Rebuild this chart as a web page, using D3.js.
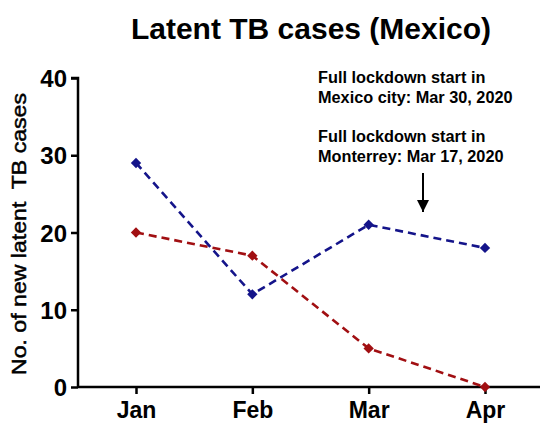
<!DOCTYPE html>
<html>
<head>
<meta charset="utf-8">
<script src="https://cdn.jsdelivr.net/npm/d3@7"></script>
<style>
  body { margin: 0; background: #fff; }
  svg text { font-family: Arial, "Liberation Sans", Helvetica, sans-serif; }
</style>
</head>
<body>
<svg id="chart" width="544" height="426"></svg>
<script>
// chart data
const months = ["Jan", "Feb", "Mar", "Apr"];
const blueSeries = [29, 12, 21, 18];
const redSeries = [20, 17, 5, 0];
const yTicks = [0, 10, 20, 30, 40];
const notes = [
  ["Full lockdown start in", "Mexico city: Mar 30, 2020"],
  ["Full lockdown start in", "Monterrey: Mar 17, 2020"]
];

const svg = d3.select("#chart");
const margin = { top: 78, right: 4, bottom: 39, left: 78 };
const width = 544, height = 426;
const innerW = width - margin.left - margin.right;
const innerH = height - margin.top - margin.bottom;

const x = d3.scalePoint()
  .domain(months)
  .range([58, 407]);
const y = d3.scaleLinear()
  .domain([0, 40])
  .range([innerH, 0]);

const g = svg.append("g")
  .attr("transform", `translate(${margin.left},${margin.top})`);

// Title
svg.append("text")
  .attr("x", 311)
  .attr("y", 39)
  .attr("text-anchor", "middle")
  .style("font-size", "30px")
  .style("font-weight", "bold")
  .text("Latent TB cases (Mexico)");

// Y axis
const yAxis = g.append("g")
  .call(d3.axisLeft(y).tickValues(yTicks).tickSize(7).tickPadding(4));
yAxis.select(".domain").attr("stroke-width", 2.5).attr("d", `M-7,0H0V${innerH}`);
yAxis.selectAll(".tick line").attr("stroke-width", 2.5);
yAxis.selectAll("text")
  .style("font-size", "24px")
  .style("font-weight", "bold")
  .attr("fill", "#000")
  .attr("dy", "0.36em");

// X axis
const xAxis = g.append("g")
  .attr("transform", `translate(0,${innerH})`)
  .call(d3.axisBottom(x).tickSize(7).tickPadding(8));
xAxis.select(".domain").attr("stroke-width", 2.5).attr("d", `M0,0H${innerW}`);
xAxis.selectAll(".tick line").attr("stroke-width", 2.5);
xAxis.selectAll("text")
  .style("font-size", "23px")
  .style("font-weight", "bold")
  .attr("fill", "#000");

// Y label (medium weight look: regular glyphs with a thin stroke)
svg.append("text")
  .attr("transform", "translate(26,234) rotate(-90)")
  .attr("text-anchor", "middle")
  .style("font-size", "21px")
  .attr("fill", "#000")
  .attr("stroke", "#000")
  .attr("stroke-width", 0.5)
  .attr("textLength", 282)
  .attr("lengthAdjust", "spacingAndGlyphs")
  .attr("xml:space", "preserve")
  .text("No. of new latent  TB cases");

// Series
const line = d3.line()
  .x((d, i) => x(months[i]))
  .y(d => y(d));
const series = [
  { values: redSeries, color: "#a10f12" },
  { values: blueSeries, color: "#14148a" }
];
series.forEach(s => {
  g.append("path")
    .datum(s.values)
    .attr("fill", "none")
    .attr("stroke", s.color)
    .attr("stroke-width", 2.6)
    .attr("stroke-dasharray", "8,5")
    .attr("d", line);
  g.selectAll(null)
    .data(s.values)
    .enter().append("path")
      .attr("d", d3.symbol().type(d3.symbolDiamond2).size(68))
      .attr("transform", (d, i) => `translate(${x(months[i])},${y(d)})`)
      .attr("fill", s.color);
});

// Annotations
const noteG = svg.append("g")
  .style("font-size", "16.3px")
  .style("font-weight", "bold");
notes.forEach((lines, i) => {
  lines.forEach((t, j) => {
    noteG.append("text")
      .attr("x", 318)
      .attr("y", 83 + i * 59 + j * 20)
      .text(t);
  });
});

// Arrow
svg.append("defs").append("marker")
  .attr("id", "arrowhead")
  .attr("viewBox", "0 0 10 10")
  .attr("refX", 5).attr("refY", 10)
  .attr("markerWidth", 12).attr("markerHeight", 15)
  .attr("markerUnits", "userSpaceOnUse")
  .attr("orient", "0")
  .append("path")
    .attr("d", "M0,0L10,0L5,10Z")
    .attr("fill", "#000");
svg.append("line")
  .attr("x1", 423).attr("y1", 173)
  .attr("x2", 423).attr("y2", 212)
  .attr("stroke", "#000")
  .attr("stroke-width", 2)
  .attr("marker-end", "url(#arrowhead)");
</script>
</body>
</html>
